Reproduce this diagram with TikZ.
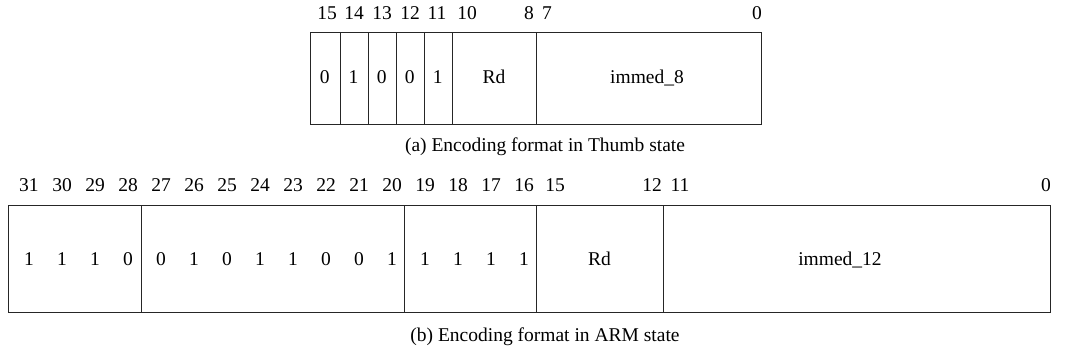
\documentclass[tikz,border=0pt]{standalone}
\usepackage{fontspec}
\setmainfont{Liberation Serif}
\begin{document}
\begin{tikzpicture}[x=1pt,y=-1pt,
  fld/.style={draw=black!85, line width=1pt, inner sep=0pt, anchor=north west},
  txt/.style={inner sep=0pt, text height=0.7em, text depth=0.2em, font=\fontsize{19.5}{22}\selectfont},
  captext/.style={inner sep=0pt, text height=0.7em, text depth=0.2em, font=\fontsize{19.5}{22}\selectfont}]
\useasboundingbox (0,0) rectangle (1068,356);
% ---- (a) Thumb ----
\node[fld, minimum width=29.5pt, minimum height=92.5pt] (a15) at (310,31.5) {};
\node[fld, minimum width=28.2pt, minimum height=92.5pt] (a14) at (339.5,31.5) {};
\node[fld, minimum width=28pt, minimum height=92.5pt] (a13) at (367.7,31.5) {};
\node[fld, minimum width=28pt, minimum height=92.5pt] (a12) at (395.7,31.5) {};
\node[fld, minimum width=28pt, minimum height=92.5pt] (a11) at (423.7,31.5) {};
\node[fld, minimum width=84.3pt, minimum height=92.5pt] (ard) at (451.7,31.5) {};
\node[fld, minimum width=225pt, minimum height=92.5pt] (aim) at (536,31.5) {};
\node[txt] (va15) at (324.7,81) {0};
\node[txt] (va14) at (353.6,81) {1};
\node[txt] (va13) at (381.7,81) {0};
\node[txt] (va12) at (409.7,81) {0};
\node[txt] (va11) at (437.7,81) {1};
\node[txt] (vard) at (494,81) {Rd};
\node[txt] (vaim) at (647,81) {immed\_8};
\foreach \n/\x in {15/327,14/354,13/382,12/410,11/437,10/467,8/529,7/547,0/757}
  \node[txt] (la\n) at (\x,17) {\n};
\node[captext] (capa) at (545,149) {(a) Encoding format in Thumb state};
% ---- (b) ARM ----
\node[fld, minimum width=133pt, minimum height=107.5pt] (bg1) at (8,204.5) {};
\node[fld, minimum width=263pt, minimum height=107.5pt] (bg2) at (141,204.5) {};
\node[fld, minimum width=132pt, minimum height=107.5pt] (bg3) at (404,204.5) {};
\node[fld, minimum width=127pt, minimum height=107.5pt] (brd) at (536,204.5) {};
\node[fld, minimum width=387pt, minimum height=107.5pt] (bim) at (663,204.5) {};
\foreach \n/\v [count=\i from 0] in {31/1,30/1,29/1,28/0,27/0,26/1,25/0,24/1,23/1,22/0,21/0,20/1,19/1,18/1,17/1,16/1} {
  \node[txt] (lb\n) at ({29+33*\i},189) {\n};
  \node[txt] (vb\n) at ({29+33*\i},263) {\v};
}
\foreach \n/\x in {15/555,12/652,11/680,0/1046}
  \node[txt] (lb\n) at (\x,189) {\n};
\node[txt] (vbrd) at (599.5,263) {Rd};
\node[txt] (vbim) at (840,263) {immed\_12};
\node[captext] (capb) at (545,339) {(b) Encoding format in ARM state};
\end{tikzpicture}
\end{document}
